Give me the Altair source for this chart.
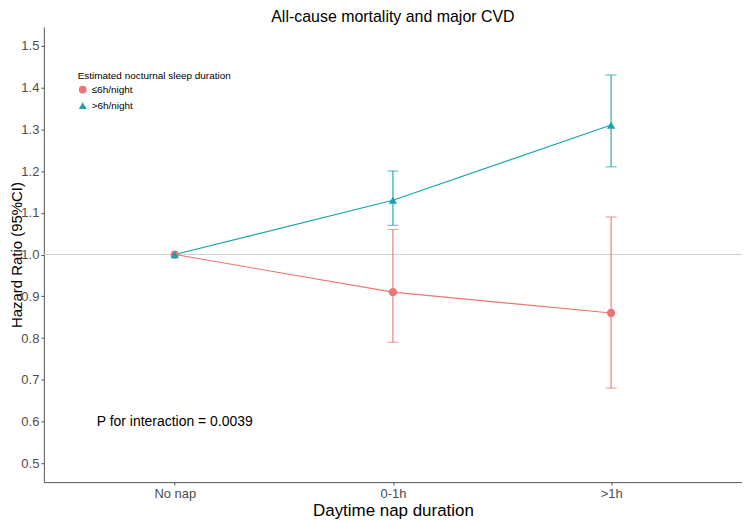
import altair as alt
import pandas as pd

categories = ["No nap", "0-1h", ">1h"]
x_pos = [1, 2, 3]
groups = ["≤6h/night", ">6h/night"]
colors = ["#EE7571", "#16A3AE"]
shapes = ["circle", "triangle-up"]

hr_short = [1.00, 0.91, 0.86]
lo_short = [None, 0.79, 0.68]
hi_short = [None, 1.06, 1.09]
hr_long = [1.00, 1.13, 1.31]
lo_long = [None, 1.07, 1.21]
hi_long = [None, 1.20, 1.43]

y_ticks = [0.5, 0.6, 0.7, 0.8, 0.9, 1.0, 1.1, 1.2, 1.3, 1.4, 1.5]
p_text = "P for interaction = 0.0039"

rows = []
for g, hr, lo, hi in [(groups[0], hr_short, lo_short, hi_short),
                      (groups[1], hr_long, lo_long, hi_long)]:
    for i in range(len(categories)):
        rows.append({"x": x_pos[i], "cat": categories[i], "group": g,
                     "hr": hr[i], "lo": lo[i], "hi": hi[i]})
df = pd.DataFrame(rows)
df_err = df.dropna(subset=["lo"])

FONT = "Liberation Sans"

label_expr = " : ".join(
    f"datum.value == {x_pos[i]} ? '{categories[i]}'" for i in range(len(categories) - 1)
) + f" : '{categories[-1]}'"

xenc = alt.X("x:Q",
             scale=alt.Scale(domain=[0.4, 3.6], nice=False, zero=False),
             axis=alt.Axis(values=x_pos, labelExpr=label_expr, grid=False,
                           title="Daytime nap duration"))
yscale = alt.Scale(domain=[0.455, 1.545], nice=False, zero=False)
yaxis = alt.Axis(values=y_ticks, format=".1f", grid=False,
                 title="Hazard Ratio (95%CI)", titleX=-22,
                 titleBaseline="alphabetic", titleFontSize=15)
cscale = alt.Scale(domain=groups, range=colors)

base = alt.Chart(df)

hline = alt.Chart(pd.DataFrame({"y": [1.0]})).mark_rule(
    color="#CFCFCF", strokeWidth=1).encode(y=alt.Y("y:Q", scale=yscale, axis=yaxis))

lines = base.mark_line(strokeWidth=1.1).encode(
    x=xenc,
    y=alt.Y("hr:Q", scale=yscale, axis=yaxis),
    color=alt.Color("group:N", scale=cscale, legend=None),
    detail="group:N",
)

err = alt.Chart(df_err).mark_rule(strokeWidth=1.1).encode(
    x=xenc,
    y=alt.Y("lo:Q", scale=yscale, axis=yaxis),
    y2="hi:Q",
    color=alt.Color("group:N", scale=cscale, legend=None),
)

cap_lo = alt.Chart(df_err).mark_tick(orient="horizontal", size=11, thickness=1.1).encode(
    x=xenc,
    y=alt.Y("lo:Q", scale=yscale, axis=yaxis),
    color=alt.Color("group:N", scale=cscale, legend=None),
)
cap_hi = alt.Chart(df_err).mark_tick(orient="horizontal", size=11, thickness=1.1).encode(
    x=xenc,
    y=alt.Y("hi:Q", scale=yscale, axis=yaxis),
    color=alt.Color("group:N", scale=cscale, legend=None),
)

legend = alt.Legend(title="Estimated nocturnal sleep duration", orient="none",
                    legendX=34, legendY=44, titleFontSize=10, labelFontSize=10,
                    titleFontWeight="normal", titleFont=FONT, labelFont=FONT,
                    titleColor="black", labelColor="black", symbolSize=60,
                    rowPadding=2, titlePadding=4, labelOffset=4,
                    symbolOpacity=1)

points = base.mark_point(filled=True, opacity=1, size=70).encode(
    x=xenc,
    y=alt.Y("hr:Q", scale=yscale, axis=yaxis),
    color=alt.Color("group:N", scale=cscale, legend=legend),
    shape=alt.Shape("group:N", scale=alt.Scale(domain=groups, range=shapes), legend=legend),
)

ptext = alt.Chart(pd.DataFrame({"t": [p_text]})).mark_text(
    fontSize=14, font=FONT, color="black").encode(
    x=alt.datum(1), y=alt.datum(0.6), text="t:N")

chart = alt.layer(hline, lines, err, cap_lo, cap_hi, points, ptext).resolve_legend(
    color="independent", shape="independent"
).properties(
    width=701, height=457,
    title=alt.TitleParams("All-cause mortality and major CVD", fontSize=16,
                          fontWeight="normal", font=FONT, color="black",
                          anchor="middle", offset=2),
    autosize=alt.AutoSizeParams(type="none"),
    padding={"left": 36, "top": 18, "right": 0, "bottom": 40},
).configure_view(stroke=None).configure_axis(
    domainColor="#555555", domainWidth=1, tickColor="#555555", tickSize=3,
    labelFont=FONT, labelFontSize=13, labelColor="#4D4D4D",
    titleFont=FONT, titleFontSize=17, titleFontWeight="normal", titleColor="black",
).configure_axisY(labelPadding=2).configure_axisX(
    titlePadding=3, labelPadding=2)

chart.save("out.html", embed_options={"renderer": "svg", "actions": False})
